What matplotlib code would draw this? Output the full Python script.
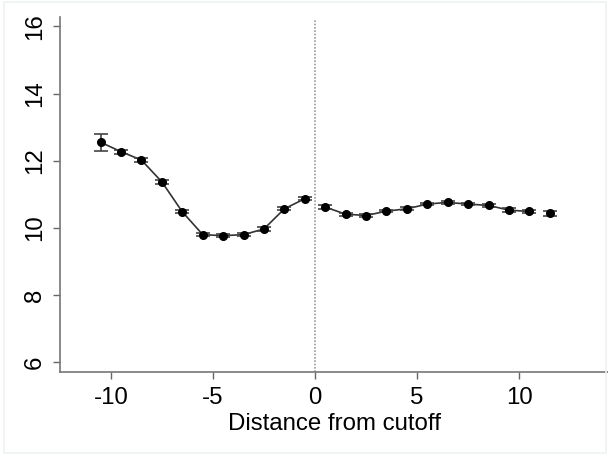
import numpy as np
import matplotlib.pyplot as plt
from matplotlib.patches import Rectangle

plt.rcParams['font.family'] = ['Liberation Sans', 'DejaVu Sans']

# binned means left of the cutoff
x_left = [-10.5, -9.5, -8.5, -7.5, -6.5, -5.5, -4.5, -3.5, -2.5, -1.5, -0.5]
y_left = [12.55, 12.27, 12.02, 11.37, 10.48, 9.80, 9.77, 9.80, 9.97, 10.57, 10.87]
err_left = [0.26, 0.06, 0.05, 0.05, 0.05, 0.04, 0.04, 0.04, 0.05, 0.05, 0.05]

# binned means right of the cutoff
x_right = [0.5, 1.5, 2.5, 3.5, 4.5, 5.5, 6.5, 7.5, 8.5, 9.5, 10.5, 11.5]
y_right = [10.62, 10.41, 10.37, 10.50, 10.57, 10.71, 10.76, 10.71, 10.67, 10.53, 10.49, 10.44]
err_right = [0.05, 0.04, 0.04, 0.04, 0.04, 0.04, 0.04, 0.04, 0.04, 0.05, 0.05, 0.07]

xticks = [-10, -5, 0, 5, 10]
yticks = [6, 8, 10, 12, 14, 16]

fig = plt.figure(figsize=(6.08, 4.54), dpi=100)
fig.patches.append(Rectangle((0.006, 0.003), 0.99, 0.993, transform=fig.transFigure,
                             fill=False, edgecolor='#edf2f2', linewidth=1.2))
ax = fig.add_axes([0.0987, 0.1813, 0.9013, 0.782])

# fitted lines
ax.plot(x_left, y_left, color='#333333', linewidth=1.2, zorder=2)
ax.plot(x_right[:-1], y_right[:-1], color='#333333', linewidth=1.2, zorder=2)

# means with error bars
for xs, ys, es in [(x_left, y_left, err_left), (x_right, y_right, err_right)]:
    ax.errorbar(xs, ys, yerr=es, fmt='o', color='black', markersize=5.5,
                ecolor='#444444', elinewidth=1.2, capsize=5, capthick=1.2, zorder=3)

ax.axvline(0, ymin=0, ymax=0.99, color='#999999', linestyle=(0, (1, 1)), linewidth=1.2, zorder=1)

ax.set_xlim(-12.49, 14.35)
ax.set_ylim(5.72, 16.29)
ax.set_xticks(xticks)
ax.set_xticklabels([str(t) for t in xticks])
ax.set_yticks(yticks)
ax.set_yticklabels([str(t) for t in yticks], rotation=90, va='center')
ax.tick_params(axis='both', labelsize=17.3, color='#666666', length=5, width=1)
ax.tick_params(axis='x', pad=6)
ax.tick_params(axis='y', pad=5)
ax.set_xlabel('Distance from cutoff', fontsize=17.3, labelpad=3)

for side in ['top', 'right']:
    ax.spines[side].set_visible(False)
for side in ['left', 'bottom']:
    ax.spines[side].set_color('#777777')
    ax.spines[side].set_linewidth(1.2)

fig.savefig('out.png', dpi=100)
